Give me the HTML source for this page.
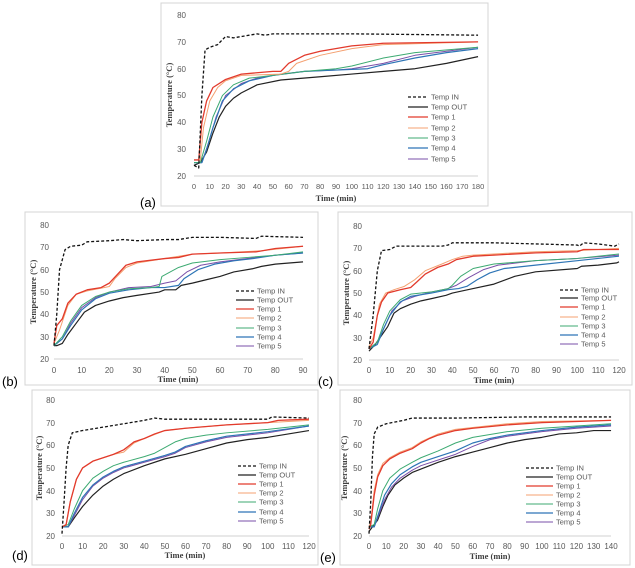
<!DOCTYPE html>
<html><head><meta charset="utf-8"><style>
body{margin:0;background:#fff;}
svg{display:block;}
.t{font-family:"Liberation Sans",sans-serif;font-size:8px;fill:#595959;}
.ti{font-family:"Liberation Serif",serif;font-size:8.5px;font-weight:bold;fill:#404040;}
.lg{font-family:"Liberation Sans",sans-serif;font-size:7.5px;fill:#595959;}
.pl{font-family:"Liberation Sans",sans-serif;font-size:13px;fill:#000;}
polyline{fill:none;stroke-linejoin:round;}
.in{stroke:#111;stroke-width:1.3;stroke-dasharray:3,2;}
.out{stroke:#222;stroke-width:1.2;}
.s1{stroke:#e23a2c;stroke-width:1.3;}
.s2{stroke:#f4a070;stroke-width:1;}
.s3{stroke:#3daa72;stroke-width:1;}
.s4{stroke:#2e75b6;stroke-width:1.2;}
.s5{stroke:#7a4fa8;stroke-width:1;}
.fr{fill:none;stroke:#d4d4d4;stroke-width:1;}
.ax{stroke:#d0d0d0;stroke-width:1;}
</style></head><body>
<svg width="635" height="568" viewBox="0 0 635 568" xmlns="http://www.w3.org/2000/svg">
<!-- frames -->
<rect class="fr" x="161" y="3" width="327" height="203"/>
<rect class="fr" x="25" y="212" width="293" height="173"/>
<rect class="fr" x="338" y="212" width="294" height="173"/>
<rect class="fr" x="32" y="390" width="286" height="175"/>
<rect class="fr" x="340" y="390" width="290" height="175"/>
<text class="pl" x="140" y="207">(a)</text>
<text class="pl" x="2" y="386">(b)</text>
<text class="pl" x="318" y="386">(c)</text>
<text class="pl" x="12" y="560">(d)</text>
<text class="pl" x="320" y="562">(e)</text>

<!-- ===== (a) ===== -->
<line class="ax" x1="194" y1="176" x2="478" y2="176"/>
<g class="t" text-anchor="end">
<text x="186" y="18">80</text><text x="186" y="45">70</text><text x="186" y="72">60</text><text x="186" y="98">50</text><text x="186" y="125">40</text><text x="186" y="152">30</text><text x="186" y="179">20</text>
</g>
<g class="t" text-anchor="middle" style="font-size:7.5px">
<text x="194" y="189">0</text><text x="209.8" y="189">10</text><text x="225.6" y="189">20</text><text x="241.3" y="189">30</text><text x="257.1" y="189">40</text><text x="272.9" y="189">50</text><text x="288.7" y="189">60</text><text x="304.4" y="189">70</text><text x="320.2" y="189">80</text><text x="336" y="189">90</text><text x="351.8" y="189">100</text><text x="367.6" y="189">110</text><text x="383.3" y="189">120</text><text x="399.1" y="189">130</text><text x="414.9" y="189">140</text><text x="430.7" y="189">150</text><text x="446.4" y="189">160</text><text x="462.2" y="189">170</text><text x="478" y="189">180</text>
</g>
<text class="ti" x="336" y="201" text-anchor="middle">Time (min)</text>
<text class="ti" transform="translate(172,95) rotate(-90)" text-anchor="middle">Temperature (°C)</text>
<g transform="translate(194,229.7) scale(1.578,-2.683)">
<polyline vector-effect="non-scaling-stroke" class="out" points="0,24 4,25 8,29 12,36 16,42 20,46 25,49 30,51 40,54 55,55.8 80,57 100,58 120,59 140,60 160,62 180,64.5"/>
<polyline vector-effect="non-scaling-stroke" class="s5" points="0,25 5,25 9,32 14,42 20,50 30,54.5 40,56.5 55,58 70,59 90,59.5 100,60 120,62 140,65 160,66.5 180,68"/>
<polyline vector-effect="non-scaling-stroke" class="s4" points="0,25 5,25 8,30 12,38 18,48 25,52.5 35,55.5 50,57.5 70,59 90,59.5 110,60 120,61.5 140,64 160,66 180,67.5"/>
<polyline vector-effect="non-scaling-stroke" class="s3" points="0,25 4,25 8,33 12,42 18,50 25,54 35,56.5 50,57.5 70,59 90,60 100,61 120,64 140,66 180,68"/>
<polyline vector-effect="non-scaling-stroke" class="s2" points="0,26 4,26 6,38 10,48 15,53 20,55.5 30,57.5 55,58 60,59 65,62 80,65 100,67.5 120,69 180,70"/>
<polyline vector-effect="non-scaling-stroke" class="s1" points="0,26 3,26 5,40 8,48 12,53 20,56 30,58 50,59 55,59 60,62 70,65 80,66.5 100,68.5 120,69.5 180,70"/>
<polyline vector-effect="non-scaling-stroke" class="in" points="0,24 3,23 5,50 7,67 10,68 15,69 20,72 25,71.5 35,72.5 40,73 45,72.5 50,73 55,73 60,73 100,73 180,72.5"/>
</g>
<g>
<line class="in" x1="408" y1="97" x2="428" y2="97"/><text class="lg" x="431" y="99.5">Temp IN</text>
<line class="out" x1="408" y1="107" x2="428" y2="107"/><text class="lg" x="431" y="109.5">Temp OUT</text>
<line class="s1" x1="408" y1="117" x2="428" y2="117"/><text class="lg" x="431" y="119.5">Temp 1</text>
<line class="s2" x1="408" y1="128" x2="428" y2="128"/><text class="lg" x="431" y="130.5">Temp 2</text>
<line class="s3" x1="408" y1="138" x2="428" y2="138"/><text class="lg" x="431" y="140.5">Temp 3</text>
<line class="s4" x1="408" y1="148" x2="428" y2="148"/><text class="lg" x="431" y="150.5">Temp 4</text>
<line class="s5" x1="408" y1="159" x2="428" y2="159"/><text class="lg" x="431" y="161.5">Temp 5</text>
</g>

<!-- ===== (b) ===== -->
<line class="ax" x1="54" y1="359" x2="303" y2="359"/>
<g class="t" text-anchor="end">
<text x="49" y="228">80</text><text x="49" y="250">70</text><text x="49" y="273">60</text><text x="49" y="295">50</text><text x="49" y="317">40</text><text x="49" y="340">30</text><text x="49" y="362">20</text>
</g>
<g class="t" text-anchor="middle">
<text x="54" y="373">0</text><text x="81.7" y="373">10</text><text x="109.3" y="373">20</text><text x="137" y="373">30</text><text x="164.7" y="373">40</text><text x="192.3" y="373">50</text><text x="220" y="373">60</text><text x="247.7" y="373">70</text><text x="275.3" y="373">80</text><text x="303" y="373">90</text>
</g>
<text class="ti" x="178" y="382" text-anchor="middle">Time (min)</text>
<text class="ti" transform="translate(36,292) rotate(-90)" text-anchor="middle">Temperature (°C)</text>
<g transform="translate(54,403.7) scale(2.767,-2.233)">
<polyline vector-effect="non-scaling-stroke" class="out" points="0,26 1,26 3,27 5,31 8,36 11,41 15,44 20,46 25,47.5 30,48.5 38,50 40,51 44,51 46,53 50,54 55,55.5 60,57 65,59 72,60.5 75,61.5 80,62.5 90,63.5"/>
<polyline vector-effect="non-scaling-stroke" class="s5" points="0,26 3,29 6,36 10,43 15,47.5 20,50 27,52 35,52.5 40,54 44,55 48,59 53,62 60,63.5 70,65 80,66.5 90,67.5"/>
<polyline vector-effect="non-scaling-stroke" class="s4" points="0,26 3,29 6,35 10,42 15,47 20,49.5 27,51 35,52 40,52 45,53 47,56 52,60 58,62.5 65,64 72,65 80,66.5 90,67.5"/>
<polyline vector-effect="non-scaling-stroke" class="s3" points="0,26 3,30 6,37 10,44 15,48 20,50 27,51.5 35,52 38,52.5 39,57 42,59 45,61 50,63 60,64.5 70,65.5 80,66.5 90,68"/>
<polyline vector-effect="non-scaling-stroke" class="s2" points="0,27 2,33 5,44 8,49 12,50.5 18,52 20,52.5 22,56 26,61 30,63 40,65 50,67 60,67.5 75,68.5 90,70.5"/>
<polyline vector-effect="non-scaling-stroke" class="s1" points="0,27 1,35 3,38 5,45 8,49 12,51 17,52 20,54 23,58 26,62 30,63.5 40,65 45,65.5 50,67 60,67.5 73,68 80,69.5 90,70.5"/>
<polyline vector-effect="non-scaling-stroke" class="in" points="0,26 1,40 2,60 4,69 6,70.5 10,71 12,72.5 20,73 25,73.5 30,73 40,73.5 45,73.5 50,74.5 60,74.5 73,74 75,75 90,74.5"/>
</g>
<g>
<line class="in" x1="236" y1="291" x2="254" y2="291"/><text class="lg" x="257" y="293.5">Temp IN</text>
<line class="out" x1="236" y1="300" x2="254" y2="300"/><text class="lg" x="257" y="302.5">Temp OUT</text>
<line class="s1" x1="236" y1="309" x2="254" y2="309"/><text class="lg" x="257" y="311.5">Temp 1</text>
<line class="s2" x1="236" y1="318" x2="254" y2="318"/><text class="lg" x="257" y="320.5">Temp 2</text>
<line class="s3" x1="236" y1="328" x2="254" y2="328"/><text class="lg" x="257" y="330.5">Temp 3</text>
<line class="s4" x1="236" y1="337" x2="254" y2="337"/><text class="lg" x="257" y="339.5">Temp 4</text>
<line class="s5" x1="236" y1="346" x2="254" y2="346"/><text class="lg" x="257" y="348.5">Temp 5</text>
</g>

<!-- ===== (c) ===== -->
<line class="ax" x1="369" y1="360" x2="619" y2="360"/>
<g class="t" text-anchor="end">
<text x="362" y="229">80</text><text x="362" y="251">70</text><text x="362" y="274">60</text><text x="362" y="296">50</text><text x="362" y="318">40</text><text x="362" y="341">30</text><text x="362" y="363">20</text>
</g>
<g class="t" text-anchor="middle">
<text x="369" y="373">0</text><text x="389.8" y="373">10</text><text x="410.7" y="373">20</text><text x="431.5" y="373">30</text><text x="452.3" y="373">40</text><text x="473.2" y="373">50</text><text x="494" y="373">60</text><text x="514.8" y="373">70</text><text x="535.7" y="373">80</text><text x="556.5" y="373">90</text><text x="577.3" y="373">100</text><text x="598.2" y="373">110</text><text x="619" y="373">120</text>
</g>
<text class="ti" x="494" y="383" text-anchor="middle">Time (min)</text>
<text class="ti" transform="translate(349,293) rotate(-90)" text-anchor="middle">Temperature (°C)</text>
<g transform="translate(369,404.7) scale(2.083,-2.233)">
<polyline vector-effect="non-scaling-stroke" class="out" points="0,24 3,27 6,31 9,35 12,41 15,43 20,45 25,46.5 30,47.5 37,49 40,50 50,52 60,54 70,57.5 80,59.5 100,61 102,62 110,62.5 119,63.5 120,64"/>
<polyline vector-effect="non-scaling-stroke" class="s5" points="0,25 4,28 8,36 11,42 16,46.5 22,48.5 30,50.5 38,52 42,53.5 48,57 55,60.5 62,62.5 80,64.5 100,65.5 120,67"/>
<polyline vector-effect="non-scaling-stroke" class="s4" points="0,25 4,27 7,34 10,40 15,46 20,48.5 30,50 38,51.5 43,52 47,53 52,56 58,59 65,61 80,62.5 100,64.5 120,66.5"/>
<polyline vector-effect="non-scaling-stroke" class="s3" points="0,25 4,28 7,36 10,42 15,47 20,49.5 30,50.5 38,52 40,53.5 44,57.5 50,61 60,63 80,64.5 100,65.5 120,67.5"/>
<polyline vector-effect="non-scaling-stroke" class="s2" points="0,26 2,30 5,45 8,50 12,51.5 17,53 22,56 27,60 35,63 40,65 45,66.5 50,67 60,67.5 80,68.5 100,69 120,70"/>
<polyline vector-effect="non-scaling-stroke" class="s1" points="0,25 2,28 4,40 6,46 9,50 15,51.5 20,52.5 23,55 27,58.5 33,61.5 38,63 42,65 50,66.5 60,67 80,68 100,68.5 103,69.5 120,69.5"/>
<polyline vector-effect="non-scaling-stroke" class="in" points="0,25 2,40 4,60 6,69 10,69.5 13,71 20,71 35,71 38,71.5 40,72.5 60,72.5 100,71.5 101,71 103,72.5 110,72 118,71 120,72"/>
</g>
<g>
<line class="in" x1="560" y1="290" x2="578" y2="290"/><text class="lg" x="581" y="292.5">Temp IN</text>
<line class="out" x1="560" y1="298" x2="578" y2="298"/><text class="lg" x="581" y="300.5">Temp OUT</text>
<line class="s1" x1="560" y1="307" x2="578" y2="307"/><text class="lg" x="581" y="309.5">Temp 1</text>
<line class="s2" x1="560" y1="317" x2="578" y2="317"/><text class="lg" x="581" y="319.5">Temp 2</text>
<line class="s3" x1="560" y1="326" x2="578" y2="326"/><text class="lg" x="581" y="328.5">Temp 3</text>
<line class="s4" x1="560" y1="335" x2="578" y2="335"/><text class="lg" x="581" y="337.5">Temp 4</text>
<line class="s5" x1="560" y1="344" x2="578" y2="344"/><text class="lg" x="581" y="346.5">Temp 5</text>
</g>

<!-- ===== (d) ===== -->
<line class="ax" x1="62" y1="536" x2="309" y2="536"/>
<g class="t" text-anchor="end">
<text x="55" y="403">80</text><text x="55" y="426">70</text><text x="55" y="448">60</text><text x="55" y="471">50</text><text x="55" y="494">40</text><text x="55" y="516">30</text><text x="55" y="539">20</text>
</g>
<g class="t" text-anchor="middle">
<text x="62" y="549">0</text><text x="82.6" y="549">10</text><text x="103.2" y="549">20</text><text x="123.8" y="549">30</text><text x="144.3" y="549">40</text><text x="164.9" y="549">50</text><text x="185.5" y="549">60</text><text x="206.1" y="549">70</text><text x="226.7" y="549">80</text><text x="247.2" y="549">90</text><text x="267.8" y="549">100</text><text x="288.4" y="549">110</text><text x="309" y="549">120</text>
</g>
<text class="ti" x="185" y="558" text-anchor="middle">Time (min)</text>
<text class="ti" transform="translate(42,468) rotate(-90)" text-anchor="middle">Temperature (°C)</text>
<g transform="translate(62,581.3) scale(2.058,-2.267)">
<polyline vector-effect="non-scaling-stroke" class="out" points="0,24 3,24 6,28 10,33 15,38 20,42 25,45 30,47.5 40,51 50,54 60,56 70,58.5 80,61 90,62.5 100,63.5 110,65 120,66.5"/>
<polyline vector-effect="non-scaling-stroke" class="s5" points="0,24 3,24 6,29 10,36 15,42 20,45.5 25,48 30,50 40,52.5 50,55 55,56.5 60,59 70,61.5 80,63.5 100,65.5 120,68.5"/>
<polyline vector-effect="non-scaling-stroke" class="s4" points="0,24 3,24 6,30 10,37 15,42.5 20,46 25,48.5 30,50.5 40,53 50,55.5 55,57 60,59.5 70,62 80,64 100,66 120,68.5"/>
<polyline vector-effect="non-scaling-stroke" class="s3" points="0,24 3,25 6,32 10,40 15,45.5 20,48.5 25,51 30,52.5 40,55 45,56.5 50,59 55,61.5 60,63 70,64.5 80,65.5 100,67 120,69"/>
<polyline vector-effect="non-scaling-stroke" class="s2" points="0,24 2,25 4,35 7,45 10,50 15,53 20,54.5 25,56 30,57 35,61 40,63 50,66.5 60,67.5 80,69 100,70 120,71"/>
<polyline vector-effect="non-scaling-stroke" class="s1" points="0,24 2,25 4,35 7,45 10,50 15,53 20,54.5 25,56 30,58 35,61.5 40,63 45,65 50,66.5 60,67.5 80,69 100,70 105,71 120,71.5"/>
<polyline vector-effect="non-scaling-stroke" class="in" points="0,21 1,35 2,50 3,60 5,65.5 10,66.5 20,68 30,69.5 40,71 45,72 50,71.5 60,71.5 100,71.5 102,72.5 120,72"/>
</g>
<g>
<line class="in" x1="238" y1="466" x2="256" y2="466"/><text class="lg" x="259" y="468.5">Temp IN</text>
<line class="out" x1="238" y1="475" x2="256" y2="475"/><text class="lg" x="259" y="477.5">Temp OUT</text>
<line class="s1" x1="238" y1="484" x2="256" y2="484"/><text class="lg" x="259" y="486.5">Temp 1</text>
<line class="s2" x1="238" y1="493" x2="256" y2="493"/><text class="lg" x="259" y="495.5">Temp 2</text>
<line class="s3" x1="238" y1="502" x2="256" y2="502"/><text class="lg" x="259" y="504.5">Temp 3</text>
<line class="s4" x1="238" y1="512" x2="256" y2="512"/><text class="lg" x="259" y="514.5">Temp 4</text>
<line class="s5" x1="238" y1="521" x2="256" y2="521"/><text class="lg" x="259" y="523.5">Temp 5</text>
</g>

<!-- ===== (e) ===== -->
<line class="ax" x1="369" y1="536" x2="611" y2="536"/>
<g class="t" text-anchor="end">
<text x="362" y="403">80</text><text x="362" y="426">70</text><text x="362" y="448">60</text><text x="362" y="471">50</text><text x="362" y="494">40</text><text x="362" y="516">30</text><text x="362" y="539">20</text>
</g>
<g class="t" text-anchor="middle">
<text x="369" y="549">0</text><text x="386.3" y="549">10</text><text x="403.6" y="549">20</text><text x="420.9" y="549">30</text><text x="438.1" y="549">40</text><text x="455.4" y="549">50</text><text x="472.7" y="549">60</text><text x="490" y="549">70</text><text x="507.3" y="549">80</text><text x="524.6" y="549">90</text><text x="541.9" y="549">100</text><text x="559.1" y="549">110</text><text x="576.4" y="549">120</text><text x="593.7" y="549">130</text><text x="611" y="549">140</text>
</g>
<text class="ti" x="490" y="559" text-anchor="middle">Time (min)</text>
<text class="ti" transform="translate(347,468) rotate(-90)" text-anchor="middle">Temperature (°C)</text>
<g transform="translate(369,581.3) scale(1.729,-2.267)">
<polyline vector-effect="non-scaling-stroke" class="out" points="0,22 2,24 5,27 8,33 11,38 15,42.5 20,45.5 25,48 30,49.5 40,52.5 50,55 60,57 70,59 80,61 90,62.5 100,63.5 110,65 120,65.5 130,66.5 140,66.5"/>
<polyline vector-effect="non-scaling-stroke" class="s5" points="0,24 3,24 6,30 9,36 13,41.5 18,45.5 25,49 30,51 40,53.5 50,56 60,59.5 70,62.5 80,64 100,66 120,67.5 140,68.5"/>
<polyline vector-effect="non-scaling-stroke" class="s4" points="0,24 3,24 6,31 9,38 13,43 18,47 25,50.5 30,52.5 40,55 50,57.5 60,61 70,63 80,64.5 100,66.5 120,68 140,69"/>
<polyline vector-effect="non-scaling-stroke" class="s3" points="0,24 3,25 5,32 8,40 12,45.5 18,49.5 25,52.5 30,54.5 40,57.5 50,61 60,63.5 80,66 100,67.5 120,68.5 140,69.5"/>
<polyline vector-effect="non-scaling-stroke" class="s2" points="0,24 1,26 3,40 5,47 8,52 12,54.5 18,57 25,59 30,61.5 40,65 50,67 80,69.5 100,70.5 140,71"/>
<polyline vector-effect="non-scaling-stroke" class="s1" points="0,23 1,25 3,38 5,46 8,51 12,54 18,56.5 25,58.5 30,61 35,63 40,64.5 50,66.5 60,67.5 80,69 100,70 140,71"/>
<polyline vector-effect="non-scaling-stroke" class="in" points="0,21 1,35 2,55 3,65 5,68 10,69.5 20,71 25,72 30,72 50,72 90,72.5 100,72.5 140,72.5"/>
</g>
<g>
<line class="in" x1="526" y1="468" x2="553" y2="468"/><text class="lg" x="556" y="470.5">Temp IN</text>
<line class="out" x1="526" y1="477" x2="553" y2="477"/><text class="lg" x="556" y="479.5">Temp OUT</text>
<line class="s1" x1="526" y1="486" x2="553" y2="486"/><text class="lg" x="556" y="488.5">Temp 1</text>
<line class="s2" x1="526" y1="495" x2="553" y2="495"/><text class="lg" x="556" y="497.5">Temp 2</text>
<line class="s3" x1="526" y1="504" x2="553" y2="504"/><text class="lg" x="556" y="506.5">Temp 3</text>
<line class="s4" x1="526" y1="513" x2="553" y2="513"/><text class="lg" x="556" y="515.5">Temp 4</text>
<line class="s5" x1="526" y1="522" x2="553" y2="522"/><text class="lg" x="556" y="524.5">Temp 5</text>
</g>
</svg>
</body></html>
